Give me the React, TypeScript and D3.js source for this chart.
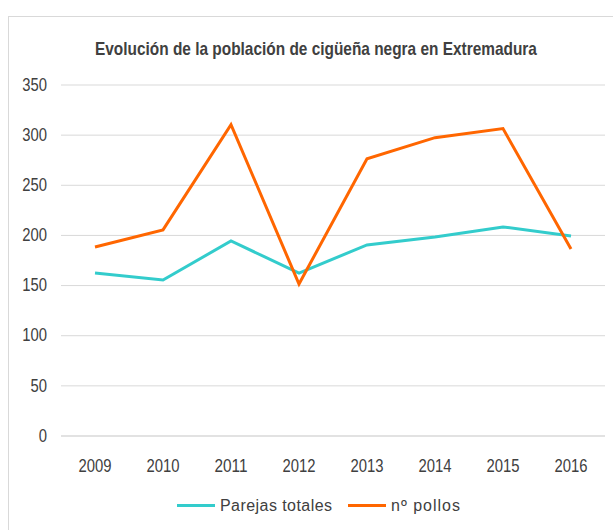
import { useEffect, useRef } from 'react';
import * as d3 from 'd3';

const years = ['2009', '2010', '2011', '2012', '2013', '2014', '2015', '2016'];
const parejas = [162, 155, 194, 162, 190, 198, 208, 199];
const pollos = [188, 205, 310, 151, 276, 297, 306, 186];
const yTicks = [0, 50, 100, 150, 200, 250, 300, 350];
const seriesNames = ['Parejas totales', 'nº pollos'];
const title = 'Evolución de la población de cigüeña negra en Extremadura';

const [width, height] = [613, 530];
const font = '"Liberation Sans Narrow", "Arial Narrow", "Liberation Sans", Arial, sans-serif';
const textColor = '#404040';
const colors = ['#33CCCC', '#FF6600'];
const digitW = 8.25; // the original uses a condensed face

function App() {
    const node = useRef<SVGSVGElement>(null);
    useEffect(() => {
        if (!node.current) return;
        const svg = d3.select(node.current);
        svg.selectAll('*').remove();

        // chart frame (runs off the right/bottom edge like the original)
        svg.append('rect')
            .attr('x', 8.5).attr('y', 16.5)
            .attr('width', 640).attr('height', 560)
            .attr('fill', '#fff').attr('stroke', '#D9D9D9').attr('stroke-width', 1);

        const x = d3.scaleBand().domain(years).range([61, 605]);
        const y = d3.scaleLinear().domain([0, 350]).range([435.5, 84.5]);
        const cx = (d: string) => (x(d) ?? 0) + x.bandwidth() / 2;

        // gridlines + y labels
        const yAxis = svg.append('g').attr('class', 'y-axis')
            .attr('transform', 'translate(61,0)')
            .call(d3.axisLeft(y).tickValues(yTicks).tickSize(-544).tickPadding(14));
        yAxis.select('.domain').remove();
        yAxis.selectAll('.tick line')
            .attr('stroke', '#D9D9D9')
            .attr('stroke-width', (d: any) => (d === 0 ? 1.6 : 1));
        yAxis.selectAll<SVGTextElement, number>('.tick text')
            .attr('fill', textColor).attr('font-family', font).attr('font-size', 18)
            .attr('textLength', d => String(d).length * digitW)
            .attr('lengthAdjust', 'spacingAndGlyphs');

        // x labels
        const xAxis = svg.append('g').attr('class', 'x-axis')
            .attr('transform', 'translate(0,435.5)')
            .call(d3.axisBottom(x).tickSize(0).tickPadding(24));
        xAxis.select('.domain').remove();
        xAxis.selectAll<SVGTextElement, string>('.tick text')
            .attr('fill', textColor).attr('font-family', font).attr('font-size', 18)
            .attr('textLength', d => d.length * digitW)
            .attr('lengthAdjust', 'spacingAndGlyphs');

        // lines
        const line = d3.line<number>()
            .x((_, i) => cx(years[i]))
            .y(d => y(d));
        [parejas, pollos].forEach((vals, i) => {
            svg.append('path')
                .datum(vals)
                .attr('d', line)
                .attr('fill', 'none')
                .attr('stroke', colors[i])
                .attr('stroke-width', 3)
                .attr('stroke-linejoin', 'miter');
        });

        // title, squeezed horizontally to the condensed width of the original
        const titleG = svg.append('g');
        const titleText = titleG.append('text')
            .attr('x', 0).attr('y', 0)
            .attr('font-family', font).attr('font-weight', 'bold').attr('font-size', 19)
            .attr('fill', textColor)
            .text(title);
        const natural = (titleText.node() as SVGTextElement).getComputedTextLength() || 442;
        titleG.attr('transform', `translate(95,55) scale(${442 / natural},1)`);

        // legend
        const legendX = [177, 348];
        const legendW = [112, 69];
        seriesNames.forEach((name, i) => {
            const g = svg.append('g').attr('transform', `translate(${legendX[i]},505.5)`);
            g.append('line').attr('x1', 0).attr('x2', 38)
                .attr('stroke', colors[i]).attr('stroke-width', 3);
            g.append('text').attr('x', 43).attr('y', 5.5)
                .attr('font-family', font).attr('font-size', 16)
                .attr('fill', textColor)
                .attr('textLength', legendW[i]).attr('lengthAdjust', 'spacing')
                .text(name);
        });
    }, [node]);

    return (
        <svg ref={node} width={width} height={height}
            style={{ position: 'absolute', left: 0, top: 0, background: '#fff' }}></svg>
    );
}

export default App;
